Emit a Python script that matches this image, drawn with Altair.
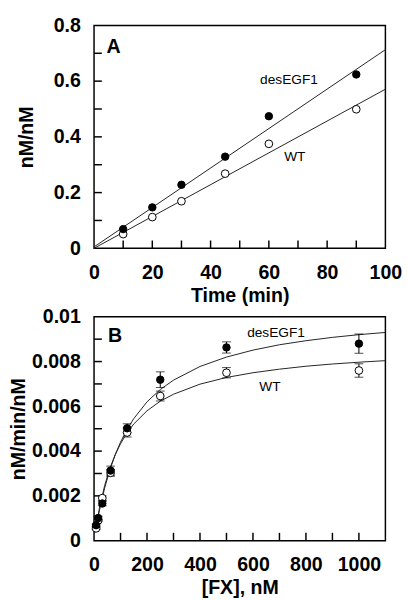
import altair as alt
import pandas as pd

FONT = "Liberation Sans"

# ---------------- Panel A data ----------------
time_min = [10, 20, 30, 45, 60, 90]
a_desegf1 = [0.069, 0.147, 0.228, 0.329, 0.474, 0.624]
a_wt = [0.051, 0.112, 0.169, 0.268, 0.375, 0.499]
a_fit_time = [0, 100]
a_fit_desegf1 = [0.005, 0.713]
a_fit_wt = [0.0, 0.571]
a_x_labels = [0, 20, 40, 60, 80, 100]
a_y_labels = [0, 0.2, 0.4, 0.6, 0.8]
a_x_ticks = [10, 20, 30, 40, 50, 60, 70, 80, 90]
a_y_ticks = [0.1, 0.2, 0.3, 0.4, 0.5, 0.6, 0.7]
a_text = ["A", "desEGF1", "WT"]
a_text_x = [6.7, 66.9, 68.9]
a_text_y = [0.723, 0.605, 0.329]

# ---------------- Panel B data ----------------
fx_nm = [7.8, 15.6, 31.25, 62.5, 125, 250, 500, 1000]
b_desegf1 = [0.00069, 0.00101, 0.00166, 0.00313, 0.00502, 0.00719, 0.00863, 0.0088]
b_desegf1_err = [0.00005, 0.00008, 0.0001, 0.0002, 0.0002, 0.00035, 0.00025, 0.00043]
b_wt = [0.00055, 0.0009, 0.0019, 0.00303, 0.00483, 0.00646, 0.0075, 0.0076]
b_wt_err = [0.00005, 0.00005, 0.0001, 0.00015, 0.0002, 0.00022, 0.00023, 0.0003]
b_fit_fx = [5, 10, 20, 40, 60, 80, 100, 125, 150, 200, 250, 300, 400, 500,
            600, 700, 800, 900, 1000, 1100]
b_fit_desegf1 = [0.00037, 0.00071, 0.00133, 0.00235, 0.00317, 0.00384, 0.0044,
                 0.00498, 0.00545, 0.0062, 0.00675, 0.00717, 0.00778, 0.0082,
                 0.00851, 0.00875, 0.00893, 0.00908, 0.0092, 0.0093]
b_fit_wt = [0.00041, 0.00078, 0.00143, 0.00246, 0.00324, 0.00384, 0.00433,
            0.00482, 0.00521, 0.0058, 0.00623, 0.00654, 0.00699, 0.00729,
            0.0075, 0.00766, 0.00779, 0.00789, 0.00797, 0.00804]
b_x_labels = [0, 200, 400, 600, 800, 1000]
b_y_labels = [0, 0.002, 0.004, 0.006, 0.008, 0.01]
b_x_ticks = [100, 200, 300, 400, 500, 600, 700, 800, 900, 1000]
b_y_ticks = [0.001, 0.002, 0.003, 0.004, 0.005, 0.006, 0.007, 0.008, 0.009]
b_text = ["B", "desEGF1", "WT"]
b_text_x = [79, 687, 664]
b_text_y = [0.00913, 0.00926, 0.00688]

W = 298
HA = 228
HB = 229
TICK = 8

axis_common = dict(
    ticks=False, tickSize=0, domain=False, grid=False, labelFlush=False,
    labelExpr="format(datum.value, '~g')",
    labelFont=FONT, labelFontSize=20, labelFontWeight="bold",
    labelColor="black", titleFont=FONT, titleFontSize=20,
    titleFontWeight="bold", titleColor="black",
)


def panel(xdom, ydom, H, xlab, ylab, xtitle, ytitle, ytitle_pad,
          xticks, yticks, fit_x, fit_s1, fit_s2, px, p1, p2, e1, e2,
          tx, ty, tt):
    xs = alt.Scale(domain=xdom, nice=False, zero=False)
    ys = alt.Scale(domain=ydom, nice=False, zero=False)
    xa = alt.Axis(values=xlab, title=xtitle, labelPadding=15, titlePadding=3,
                  **axis_common)
    ya = alt.Axis(values=ylab, title=ytitle, labelPadding=14,
                  titlePadding=ytitle_pad, **axis_common)

    def X(f):
        return alt.X(f, scale=xs, axis=xa, title=xtitle)

    def Y(f):
        return alt.Y(f, scale=ys, axis=ya, title=ytitle)

    fit_df = pd.DataFrame({"x": fit_x * 2, "y": fit_s1 + fit_s2,
                           "s": ["desEGF1"] * len(fit_x) + ["WT"] * len(fit_x)})
    lines = alt.Chart(fit_df).mark_line(color="#222222", strokeWidth=1).encode(
        x=X("x:Q"), y=Y("y:Q"), detail="s:N")

    xt = alt.Chart(pd.DataFrame({"x": xticks})).mark_rule(
        color="black", strokeWidth=1.5).encode(
        x=X("x:Q"), y=alt.value(H - TICK), y2=alt.value(H))
    yt = alt.Chart(pd.DataFrame({"y": yticks})).mark_rule(
        color="black", strokeWidth=1.5).encode(
        y=Y("y:Q"), x=alt.value(0), x2=alt.value(TICK))

    layers = [lines, xt, yt]

    for vals, errs in ((p1, e1), (p2, e2)):
        if errs is None:
            continue
        edf = pd.DataFrame({"x": px, "lo": [v - e for v, e in zip(vals, errs)],
                            "hi": [v + e for v, e in zip(vals, errs)]})
        layers.append(alt.Chart(edf).mark_rule(color="black", strokeWidth=1).encode(
            x=X("x:Q"), y=Y("lo:Q"), y2="hi:Q"))
        for col in ("lo", "hi"):
            layers.append(alt.Chart(edf).mark_tick(
                orient="horizontal", color="black", size=9, thickness=1).encode(
                x=X("x:Q"), y=Y(f"{col}:Q")))

    wt_df = pd.DataFrame({"x": px, "y": p2})
    des_df = pd.DataFrame({"x": px, "y": p1})
    layers.append(alt.Chart(wt_df).mark_point(
        shape="circle", filled=True, fill="white", stroke="black",
        strokeWidth=1, size=62, opacity=1).encode(x=X("x:Q"), y=Y("y:Q")))
    layers.append(alt.Chart(des_df).mark_point(
        shape="circle", filled=True, fill="black", stroke="black",
        strokeWidth=1, size=58, opacity=1).encode(x=X("x:Q"), y=Y("y:Q")))

    tdf = pd.DataFrame({"x": tx, "y": ty, "t": tt})
    layers.append(alt.Chart(tdf.iloc[:1]).mark_text(
        font=FONT, fontSize=20, fontWeight="bold", color="black").encode(
        x=X("x:Q"), y=Y("y:Q"), text="t:N"))
    layers.append(alt.Chart(tdf.iloc[1:]).mark_text(
        font=FONT, fontSize=14, color="black").encode(
        x=X("x:Q"), y=Y("y:Q"), text="t:N"))

    return alt.layer(*layers).properties(width=W, height=H)


chart_a = panel([0, 100], [0, 0.8], HA, a_x_labels, a_y_labels,
                "Time (min)", "nM/nM", 17, a_x_ticks, a_y_ticks,
                a_fit_time, a_fit_desegf1, a_fit_wt, time_min, a_desegf1, a_wt,
                None, None, a_text_x, a_text_y, a_text)
chart_b = panel([0, 1100], [0, 0.01], HB, b_x_labels, b_y_labels,
                "[FX], nM", "nM/min/nM", 3, b_x_ticks, b_y_ticks,
                b_fit_fx, b_fit_desegf1, b_fit_wt, fx_nm, b_desegf1, b_wt,
                b_desegf1_err, b_wt_err, b_text_x, b_text_y, b_text)

chart = alt.vconcat(chart_a, chart_b, spacing=0).properties(
    padding={"left": 0, "top": 0, "right": 0, "bottom": 0},
    background="white",
).configure_view(stroke="black", strokeWidth=1.5)

chart.save("out.html", embed_options={"renderer": "svg", "actions": False})
